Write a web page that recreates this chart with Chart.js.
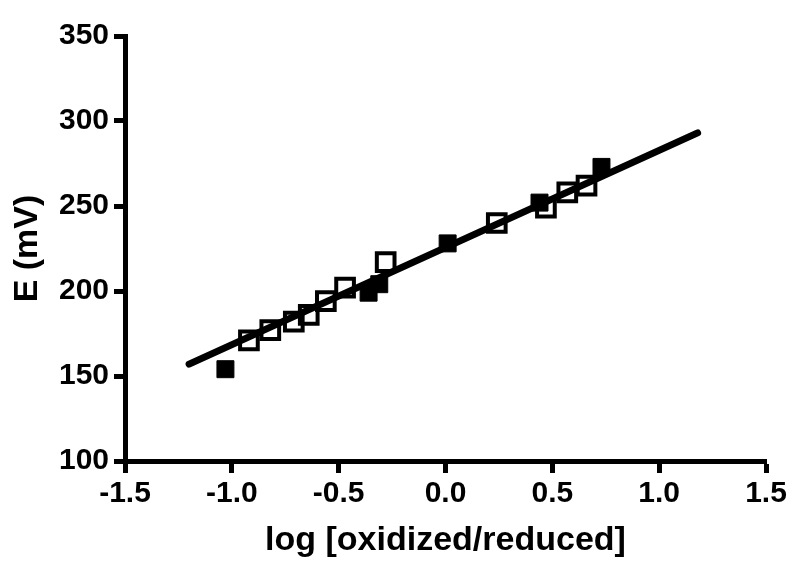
<!DOCTYPE html>
<html>
<head>
<meta charset="utf-8">
<script src="https://cdn.jsdelivr.net/npm/chart.js@4/dist/chart.umd.min.js"></script>
<style>
  html, body { margin: 0; padding: 0; background: #fff; }
  #c { display: block; }
</style>
</head>
<body>
<canvas id="c" width="800" height="573"></canvas>
<script>
// ---- data ----
const filledX = [-1.03, -0.36, -0.31, 0.01, 0.44, 0.73];
const filledY = [154, 199, 204, 228, 252, 273];

const openX = [-0.92, -0.82, -0.71, -0.64, -0.56, -0.47, -0.28, 0.24, 0.47, 0.57, 0.66];
const openY = [171, 177, 182, 186, 194, 202, 217, 240, 249, 258, 262];

const fitX = [-1.2, 1.18];
const fitY = [157, 293];

const xTicks = [-1.5, -1.0, -0.5, 0.0, 0.5, 1.0, 1.5];
const yTicks = [100, 150, 200, 250, 300, 350];

const xTitle = 'log [oxidized/reduced]';
const yTitle = 'E (mV)';

const pts = (xs, ys) => xs.map((x, i) => ({ x: x, y: ys[i] }));

const FONT = '"Liberation Sans", Arial, Helvetica, sans-serif';

new Chart(document.getElementById('c'), {
  type: 'scatter',
  data: {
    datasets: [
      {
        type: 'line',
        label: 'fit',
        data: pts(fitX, fitY),
        borderColor: '#000',
        borderWidth: 7,
        borderCapStyle: 'round',
        pointRadius: 0,
        fill: false,
        tension: 0,
        order: 0
      },
      {
        label: 'open',
        data: pts(openX, openY),
        pointStyle: 'rect',
        pointRadius: 12.5,
        pointHoverRadius: 12.5,
        backgroundColor: 'rgba(0,0,0,0)',
        borderColor: '#000',
        borderWidth: 4,
        order: 1
      },
      {
        label: 'filled',
        data: pts(filledX, filledY),
        pointStyle: 'rect',
        pointRadius: 12,
        pointHoverRadius: 12,
        backgroundColor: '#000',
        borderColor: '#000',
        borderWidth: 1,
        order: 2
      }
    ]
  },
  options: {
    responsive: false,
    animation: false,
    events: [],
    layout: { padding: { top: 36, right: 34, left: 0, bottom: 0 } },
    plugins: {
      legend: { display: false },
      tooltip: { enabled: false }
    },
    scales: {
      x: {
        type: 'linear',
        min: -1.5,
        max: 1.5,
        afterBuildTicks: (s) => { s.ticks = xTicks.map(v => ({ value: v })); },
        afterFit: (s) => { s.height = 112; },
        grid: {
          display: true,
          drawOnChartArea: false,
          drawTicks: true,
          tickLength: 12,
          tickWidth: 5,
          tickColor: '#000'
        },
        border: { display: true, color: '#000', width: 5 },
        ticks: {
          color: '#000',
          padding: 3,
          maxRotation: 0,
          font: { family: FONT, size: 30, weight: 'bold' },
          callback: (v) => Number(v).toFixed(1)
        },
        title: {
          display: true,
          text: xTitle,
          color: '#000',
          padding: { top: 0, bottom: 12 },
          font: { family: FONT, size: 34, weight: 'bold' }
        }
      },
      y: {
        type: 'linear',
        min: 100,
        max: 350,
        afterBuildTicks: (s) => { s.ticks = yTicks.map(v => ({ value: v })); },
        afterFit: (s) => { s.width = 125; },
        grid: {
          display: true,
          drawOnChartArea: false,
          drawTicks: true,
          tickLength: 11,
          tickWidth: 5,
          tickColor: '#000'
        },
        border: { display: true, color: '#000', width: 5 },
        ticks: {
          color: '#000',
          padding: 5,
          font: { family: FONT, size: 30, weight: 'bold' },
          callback: (v) => String(v)
        },
        title: {
          display: true,
          text: yTitle,
          color: '#000',
          padding: { top: 7, bottom: 0 },
          font: { family: FONT, size: 34, weight: 'bold' }
        }
      }
    }
  }
});
</script>
</body>
</html>
